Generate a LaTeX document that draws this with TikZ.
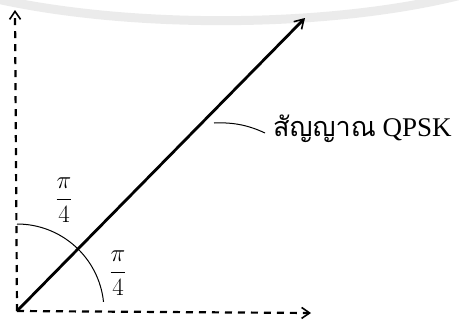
\documentclass[tikz,border=0pt]{standalone}
\usepackage{fontspec}
\setmainfont{Liberation Serif}
\newfontfamily\thaifont[Script=Thai]{Loma}
\usetikzlibrary{arrows.meta}
\begin{document}
\begin{tikzpicture}[x=1pt,y=-1pt,
  axis/.style={line width=2.2pt, dash pattern=on 7pt off 6pt, -{Straight Barb[length=8pt,width=11pt,line width=1.6pt]}},
  vec/.style={line width=2.8pt, -{Straight Barb[length=9pt,width=11pt,line width=1.6pt]}},
  lbl/.style={inner sep=0pt, font=\fontsize{26}{30}\selectfont}]
\useasboundingbox (0,0) rectangle (459,322);
\draw[black!8, line width=9pt] (-20,-5) .. controls (120,30) and (340,30) .. (480,-10);
\coordinate (O) at (17,311);
\coordinate (Y) at (15,10);
\coordinate (X) at (311,313);
\coordinate (V) at (305,18);
\draw[axis] (O) -- (Y);
\draw[axis] (O) -- (X);
\draw[vec] (O) -- (V);
\draw[line width=1pt] (17,224) arc[start angle=-90, end angle=-6, radius=87];
\node[lbl] (p1) at (64,200) {$\displaystyle\frac{\pi}{4}$};
\node[lbl] (p2) at (118,273) {$\displaystyle\frac{\pi}{4}$};
\node[inner sep=0pt, anchor=west, font=\fontsize{27}{30}\selectfont] (t) at (273,129) {{\thaifont สัญญาณ} QPSK};
\coordinate (L1) at (214,123);
\draw[line width=1pt] (L1) .. controls (235,122) and (250,126) .. (265,133);
\end{tikzpicture}
\end{document}
